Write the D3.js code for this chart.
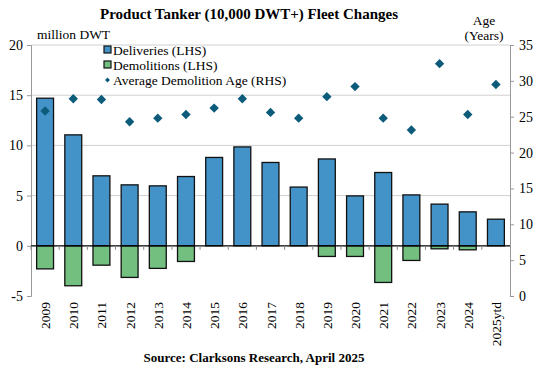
<!DOCTYPE html>
<html>
<head>
<meta charset="utf-8">
<script src="https://cdn.jsdelivr.net/npm/d3@7"></script>
<style>
  body { margin: 0; background: #fff; }
  svg text { font-family: "Liberation Serif", "Times New Roman", serif !important; }
</style>
</head>
<body>
<svg id="chart" width="540" height="372"></svg>
<script>
var years = ["2009","2010","2011","2012","2013","2014","2015","2016","2017","2018","2019","2020","2021","2022","2023","2024","2025ytd"];
var deliveries = [14.7, 11.05, 6.97, 6.07, 5.97, 6.9, 8.8, 9.85, 8.3, 5.85, 8.65, 4.97, 7.3, 5.07, 4.15, 3.38, 2.65];
var demolitions = [-2.3, -3.98, -1.93, -3.15, -2.25, -1.56, 0, 0, 0, 0, -1.06, -1.06, -3.65, -1.46, -0.3, -0.4, 0];
var demoAge = [25.8, 27.5, 27.4, 24.3, 24.8, 25.3, 26.2, 27.5, 25.6, 24.8, 27.8, 29.2, 24.8, 23.15, 32.4, 25.3, 29.5];
var leftTicks = [-5, 0, 5, 10, 15, 20];
var rightTicks = [0, 5, 10, 15, 20, 25, 30, 35];

var svg = d3.select("#chart");
var m = {left: 31, right: 510, top: 45, bottom: 296};
var serif = "Liberation Serif";

var x = d3.scaleBand().domain(years).range([m.left, m.right]).paddingInner(0.4).paddingOuter(0.2);
var yL = d3.scaleLinear().domain([-5, 20]).range([m.bottom, m.top]);
var yR = d3.scaleLinear().domain([0, 35]).range([m.bottom, m.top]);

// gridlines
svg.append("g").selectAll("line")
  .data(leftTicks.filter(function(d){ return d > 0; }))
  .enter().append("line")
  .attr("x1", m.left).attr("x2", m.right)
  .attr("y1", function(d){ return yL(d); }).attr("y2", function(d){ return yL(d); })
  .attr("stroke", "#d0d0d0").attr("stroke-width", 1);

// bars
svg.append("g").selectAll("rect")
  .data(deliveries).enter().append("rect")
  .attr("x", function(d, i){ return x(years[i]); })
  .attr("width", x.bandwidth())
  .attr("y", function(d){ return yL(d); })
  .attr("height", function(d){ return yL(0) - yL(d); })
  .attr("fill", "#4393c9").attr("stroke", "#111").attr("stroke-width", 1.3);

var demoData = demolitions.map(function(v, i){ return {year: years[i], v: v}; })
  .filter(function(d){ return d.v < 0; });
svg.append("g").selectAll("rect")
  .data(demoData).enter().append("rect")
  .attr("x", function(d){ return x(d.year); })
  .attr("width", x.bandwidth())
  .attr("y", yL(0))
  .attr("height", function(d){ return yL(d.v) - yL(0); })
  .attr("fill", "#72bf80").attr("stroke", "#111").attr("stroke-width", 1.3);

// left axis
var axL = svg.append("g").attr("transform", "translate(" + m.left + ",0)")
  .call(d3.axisLeft(yL).tickValues(leftTicks).tickSize(4).tickFormat(function(d){ return d < 0 ? "-" + Math.abs(d) : d; }));
axL.attr("font-family", serif);
axL.select(".domain").attr("stroke", "#999");
axL.selectAll(".tick line").attr("stroke", "#999");
axL.selectAll("text").attr("font-size", 14).attr("fill", "#000").attr("x", -8);

// right axis
var axR = svg.append("g").attr("transform", "translate(" + m.right + ",0)")
  .call(d3.axisRight(yR).tickValues(rightTicks).tickSize(4));
axR.attr("font-family", serif);
axR.select(".domain").attr("stroke", "#999");
axR.selectAll(".tick line").attr("stroke", "#999");
axR.selectAll("text").attr("font-size", 14).attr("fill", "#000").attr("x", 9);

// zero line with category ticks
svg.append("line").attr("x1", m.left).attr("x2", m.right)
  .attr("y1", yL(0)).attr("y2", yL(0)).attr("stroke", "#000").attr("stroke-width", 1.2);
var step = x.step();
svg.append("g").selectAll("line")
  .data(years).enter().append("line")
  .attr("x1", function(d){ return x(d) - step * 0.2; })
  .attr("x2", function(d){ return x(d) - step * 0.2; })
  .attr("y1", yL(0)).attr("y2", yL(0) + 4)
  .attr("stroke", "#888");

// category labels (rotated)
svg.append("g").selectAll("text")
  .data(years).enter().append("text")
  .attr("transform", function(d){ return "translate(" + (x(d) + x.bandwidth() / 2 + 5) + "," + (m.bottom + 6) + ") rotate(-90)"; })
  .attr("text-anchor", "end")
  .attr("font-family", serif)
  .attr("font-size", 13.5)
  .text(function(d){ return d; });

// age markers (rotated squares)
svg.append("g").selectAll("path")
  .data(demoAge).enter().append("path")
  .attr("d", d3.symbol().type(d3.symbolSquare).size(44))
  .attr("transform", function(d, i){ return "translate(" + (x(years[i]) + x.bandwidth() / 2) + "," + yR(d) + ") rotate(45)"; })
  .attr("fill", "#0d5b7a");

// title, axis titles, source
svg.append("text").attr("x", 249).attr("y", 19).attr("text-anchor", "middle").attr("font-family", serif)
  .attr("font-size", 15).attr("font-weight", "bold").text("Product Tanker (10,000 DWT+) Fleet Changes");
svg.append("text").attr("x", 37).attr("y", 39).attr("font-family", serif).attr("font-size", 13.5).text("million DWT");
svg.append("text").attr("x", 484).attr("y", 25).attr("text-anchor", "middle").attr("font-family", serif).attr("font-size", 13.5).text("Age");
svg.append("text").attr("x", 484).attr("y", 40).attr("text-anchor", "middle").attr("font-family", serif).attr("font-size", 13.5).text("(Years)");
svg.append("text").attr("x", 254).attr("y", 362).attr("text-anchor", "middle").attr("font-family", serif)
  .attr("font-size", 13).attr("font-weight", "bold").text("Source: Clarksons Research, April 2025");

// legend
var legendItems = [
  {label: "Deliveries (LHS)", type: "rect", fill: "#4393c9"},
  {label: "Demolitions (LHS)", type: "rect", fill: "#72bf80"},
  {label: "Average Demolition Age (RHS)", type: "dot", fill: "#0d5b7a"}
];
var lg = svg.append("g").attr("transform", "translate(104,50)");
legendItems.forEach(function(it, i){
  var g = lg.append("g").attr("transform", "translate(0," + (i * 15) + ")");
  if (it.type === "rect") {
    g.append("rect").attr("x", 0).attr("y", -4).attr("width", 7).attr("height", 7)
      .attr("fill", it.fill).attr("stroke", "#111").attr("stroke-width", 1.2);
  } else {
    g.append("path").attr("d", d3.symbol().type(d3.symbolSquare).size(12))
      .attr("transform", "translate(3.5,0) rotate(45)").attr("fill", it.fill);
  }
  g.append("text").attr("x", 9).attr("y", 0).attr("dy", "0.35em").attr("font-family", serif)
    .attr("font-size", 13.5).text(it.label);
});
</script>
</body>
</html>
